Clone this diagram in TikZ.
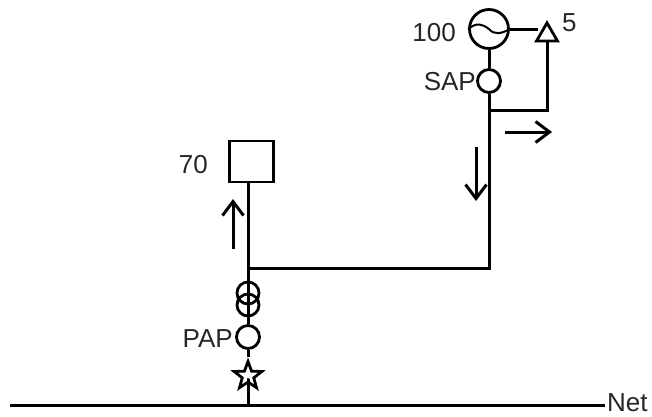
\documentclass[tikz,border=0pt]{standalone}
\usepackage{fontspec}
\setmainfont{Liberation Sans}
\usetikzlibrary{shapes.geometric,arrows.meta}
\tikzset{
  ln/.style={line width=3pt,draw=black},
  circ/.style={circle,draw=black,line width=2.8pt,fill=white,inner sep=0pt,minimum size=#1},
  ring/.style={circle,draw=black,line width=2.8pt,inner sep=0pt,minimum size=#1},
  lab/.style={font=\fontsize{26}{28}\selectfont,inner sep=0pt,text=black!85},
  flow/.style={line width=3pt,-{Straight Barb[length=14pt,width=21pt,line width=3pt]}},
}
\begin{document}
\begin{tikzpicture}[x=1pt,y=-1pt]
\useasboundingbox (0,0) rectangle (652,416);
\coordinate (jt) at (489,110);
\coordinate (jb) at (489,268);
\coordinate (jl) at (248,268);
\coordinate (jr) at (547,110);
\coordinate (netl) at (10,405);
\coordinate (netr) at (605,405);
\coordinate (netj) at (248,405);
\coordinate (au1) at (233,249);
\coordinate (au2) at (233,199);
\coordinate (ad1) at (476,147);
\coordinate (ad2) at (476,201);
\coordinate (ar1) at (505,132);
\coordinate (ar2) at (552,132);
\node[circ=23pt,name=sap] at (489,81) {};
\node[circ=39pt,name=gen] at (489,29) {};
\node[isosceles triangle,isosceles triangle apex angle=60,shape border rotate=90,draw=black,line width=2.8pt,fill=white,inner sep=0pt,minimum height=17pt,minimum width=21pt,name=tri] at (547,35) {};
\node[rectangle,draw=black,line width=2.8pt,fill=white,minimum width=44pt,minimum height=41pt,inner sep=0pt,name=box] at (251.5,161.5) {};
\node[circ=23pt,name=pap] at (248,337) {};
\node[ring=22pt,name=tr1] at (248,293) {};
\node[ring=22pt,name=tr2] at (248,305) {};
\node[star,star points=5,star point ratio=2.4,draw=black,line width=2.8pt,fill=white,inner sep=0pt,minimum size=29pt,name=st] at (248,376) {};
\draw[ln] (gen.east) -- (tri.west |- gen.east);
\draw[ln] (gen.south) -- (sap.north);
\draw[ln] (sap.south) -- (jt) -- (jb) -- (jl);
\draw[ln] (jt) -- (jr) -- (tri.south -| jr);
\draw[ln] (box.south -| jl) -- (jl);
\draw[ln] (jl) -- (tr1.north);
\draw[ln] (tr1.north) -- (tr2.south);
\draw[ln] (tr2.south) -- (pap.north);
\draw[ln] (pap.south) -- (st.north);
\draw[ln] (netl) -- (netr);
\draw[ln] (st.center) -- (netj);
\draw[flow] (au1) -- (au2);
\draw[flow] (ad1) -- (ad2);
\draw[flow] (ar1) -- (ar2);
\draw[line width=2pt] (gen.west) .. controls ([xshift=9pt,yshift=7pt]gen.west) and ([xshift=14pt,yshift=5pt]gen.west) .. (gen.center) .. controls ([xshift=5pt,yshift=-6pt]gen.center) and ([xshift=12pt,yshift=-5pt]gen.center) .. (gen.east);
\node[star,star points=5,star point ratio=2.4,fill=white,inner sep=0pt,minimum size=8pt,name=stc] at (248,376) {};
\node[lab,anchor=east] (l100) at (456,33) {100};
\node[lab,anchor=west] (l5) at (562,23) {5};
\node[lab,anchor=east] (lsap) at (476,82) {SAP};
\node[lab,anchor=east] (l70) at (208,165) {70};
\node[lab,anchor=east] (lpap) at (233,339) {PAP};
\node[lab,anchor=west] (lnet) at (607,403) {Net};
\end{tikzpicture}
\end{document}
